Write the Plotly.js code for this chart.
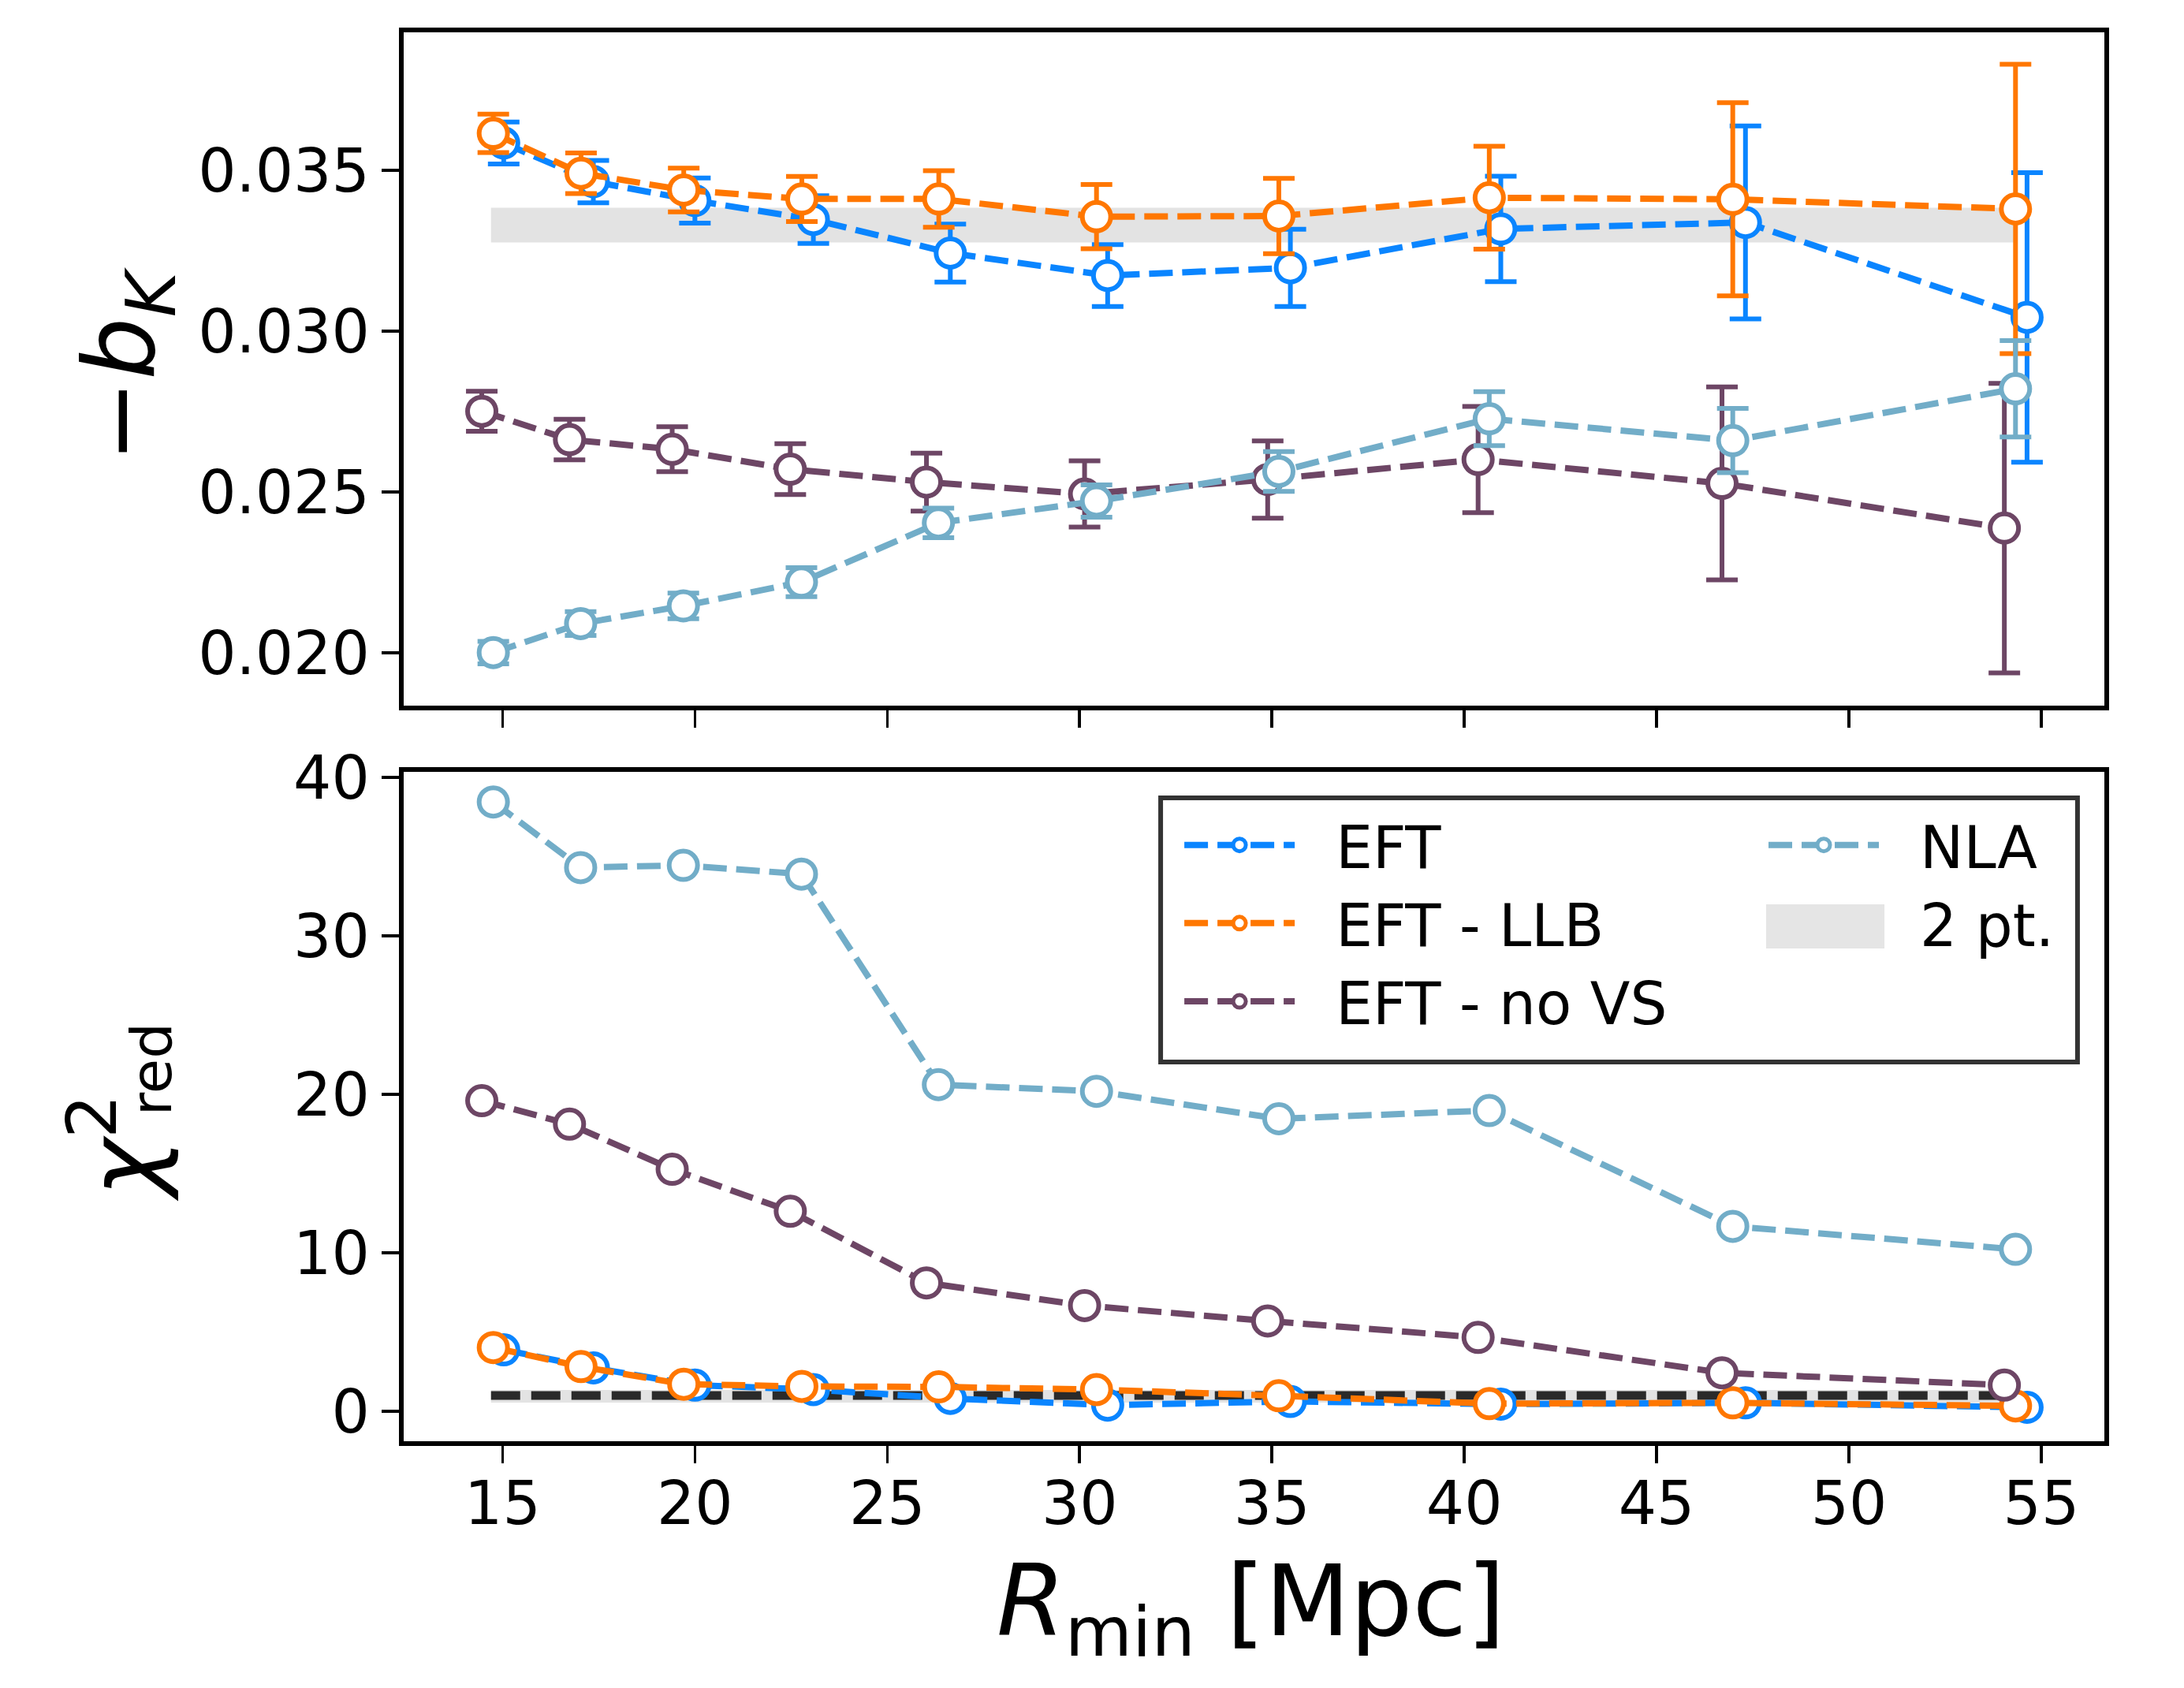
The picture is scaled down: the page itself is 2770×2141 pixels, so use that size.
<!DOCTYPE html>
<html>
<head>
<meta charset="utf-8">
<script src="https://cdn.plot.ly/plotly-3.0.1.min.js"></script>
<style>html,body{margin:0;padding:0;background:#fff;}#chart{width:2770px;height:2141px;}</style>
</head>
<body>
<div id="chart"></div>
<script>
// ---- data ----
const rEFT  = [15.03, 17.36, 20.00, 23.08, 26.64, 30.73, 35.48, 40.95, 47.31, 54.63];
const rLLB  = [14.76, 17.04, 19.71, 22.78, 26.34, 30.44, 35.18, 40.65, 46.98, 54.33];
const rNoVS = [14.46, 16.74, 19.41, 22.48, 26.02, 30.13, 34.89, 40.36, 46.70, 54.04];
const rNLA  = [14.76, 17.03, 19.70, 22.77, 26.33, 30.44, 35.18, 40.65, 46.98, 54.33];

const bK_EFT      = [0.03585, 0.03465, 0.03406, 0.03347, 0.03243, 0.03173, 0.03197, 0.03318, 0.03338, 0.03043];
const bK_EFT_err  = [0.00065, 0.00066, 0.00070, 0.00074, 0.00090, 0.00096, 0.00120, 0.00164, 0.00300, 0.00450];
const bK_LLB      = [0.03615, 0.03491, 0.03439, 0.03411, 0.03411, 0.03356, 0.03358, 0.03415, 0.03410, 0.03380];
const bK_LLB_err  = [0.00060, 0.00063, 0.00068, 0.00070, 0.00088, 0.00100, 0.00117, 0.00160, 0.00300, 0.00450];
const bK_noVS     = [0.02751, 0.02663, 0.02633, 0.02571, 0.02531, 0.02494, 0.02539, 0.02601, 0.02527, 0.02388];
const bK_noVS_err = [0.00062, 0.00063, 0.00070, 0.00079, 0.00090, 0.00103, 0.00120, 0.00165, 0.00300, 0.00450];
const bK_NLA      = [0.02001, 0.02091, 0.02146, 0.02220, 0.02404, 0.02472, 0.02564, 0.02728, 0.02660, 0.02821];
const bK_NLA_err  = [0.00035, 0.00037, 0.00040, 0.00045, 0.00046, 0.00050, 0.00062, 0.00084, 0.00100, 0.00150];

const chi2_EFT  = [3.88, 2.74, 1.65, 1.37, 0.81, 0.39, 0.62, 0.45, 0.53, 0.25];
const chi2_LLB  = [4.02, 2.82, 1.71, 1.57, 1.54, 1.37, 0.98, 0.48, 0.53, 0.34];
const chi2_noVS = [19.60, 18.12, 15.27, 12.62, 8.10, 6.67, 5.70, 4.66, 2.43, 1.65];
const chi2_NLA  = [38.45, 34.31, 34.45, 33.90, 20.61, 20.19, 18.46, 18.98, 11.67, 10.22];

// 2-point reference
const twoPtX      = [14.7, 54.3];
const bK2pt_lo    = [0.03276, 0.03276];
const bK2pt_hi    = [0.03384, 0.03384];
const chi2Ref     = [1, 1];
const chi2Band_lo = [0.55, 0.55];
const chi2Band_hi = [1.35, 1.35];

const xTicks  = [15, 20, 25, 30, 35, 40, 45, 50, 55];
const yTicksT = [0.020, 0.025, 0.030, 0.035];
const yTicksB = [0, 10, 20, 30, 40];

const names = ['EFT', 'EFT - LLB', 'EFT - no VS', 'NLA', '2 pt.'];

// ---- styles ----
const C = {eft: '#0a85ff', llb: '#ff7700', novs: '#6d4665', nla: '#72adc8', band: '#e3e3e3', ref: '#2a2a2a'};
const LW = 8, DASH = '30px,12px';
const PAD = '&nbsp;&nbsp;';
const mk = c => ({symbol: 'circle', size: 36, color: 'white', line: {color: c, width: 6}});
const eb = (arr, c) => ({type: 'data', array: arr, visible: true, color: c, thickness: 6, width: 20});

function series(x, yT, errT, yB, name, c, leg, grp, rank) {
  return [
    {x: x, y: yT, error_y: eb(errT, c), mode: 'lines+markers', name: PAD + name, legend: leg, legendgroup: grp, legendrank: rank,
     line: {color: c, width: LW, dash: DASH}, marker: mk(c), xaxis: 'x', yaxis: 'y', cliponaxis: false},
    {x: x, y: yB, mode: 'lines+markers', name: name, legendgroup: grp, showlegend: false,
     line: {color: c, width: LW, dash: DASH}, marker: mk(c), xaxis: 'x2', yaxis: 'y2', cliponaxis: false}
  ];
}

const traces = [
  {x: twoPtX, y: bK2pt_lo, mode: 'lines', line: {width: 0, color: C.band}, showlegend: false, hoverinfo: 'skip', xaxis: 'x', yaxis: 'y'},
  {x: twoPtX, y: bK2pt_hi, mode: 'lines', fill: 'tonexty', fillcolor: C.band, line: {width: 0, color: C.band},
   name: names[4], showlegend: false, legendgroup: 'twopt', xaxis: 'x', yaxis: 'y'},
  {x: twoPtX, y: chi2Band_lo, mode: 'lines', line: {width: 0, color: C.band}, showlegend: false, hoverinfo: 'skip', xaxis: 'x2', yaxis: 'y2'},
  {x: twoPtX, y: chi2Band_hi, mode: 'lines', fill: 'tonexty', fillcolor: C.band, line: {width: 0, color: C.band},
   showlegend: false, legendgroup: 'twopt', xaxis: 'x2', yaxis: 'y2'},
  {x: twoPtX, y: chi2Ref, mode: 'lines', line: {width: 11, color: C.ref, dash: '37px,14px'}, showlegend: false, xaxis: 'x2', yaxis: 'y2'},
  // legend text entry for the 2-point band (its swatch is the shape below)
  {x: [null], y: [null], mode: 'lines', line: {width: 0, color: 'rgba(0,0,0,0)'}, name: PAD + names[4],
   legend: 'legend2', legendgroup: 'twopt', legendrank: 2, xaxis: 'x', yaxis: 'y', hoverinfo: 'skip'},
  ...series(rEFT, bK_EFT, bK_EFT_err, chi2_EFT, names[0], C.eft, 'legend', 'eft', 1),
  ...series(rLLB, bK_LLB, bK_LLB_err, chi2_LLB, names[1], C.llb, 'legend', 'llb', 2),
  ...series(rNoVS, bK_noVS, bK_noVS_err, chi2_noVS, names[2], C.novs, 'legend', 'novs', 3),
  ...series(rNLA, bK_NLA, bK_NLA_err, chi2_NLA, names[3], C.nla, 'legend2', 'nla', 1)
];

const axCommon = {
  showline: true, mirror: true, linecolor: '#000', linewidth: 6,
  ticks: 'outside', ticklen: 22, tickwidth: 3.5, tickcolor: '#000',
  showgrid: false, zeroline: false, tickfont: {size: 76, color: '#000', family: 'DejaVu Sans'}
};
const xRange = [12.43, 56.64];

const layout = {
  width: 2770, height: 2141,
  paper_bgcolor: '#ffffff', plot_bgcolor: '#ffffff',
  font: {family: 'DejaVu Sans', size: 74, color: '#000'},
  margin: {l: 512, r: 101, t: 41, b: 313},
  showlegend: true,
  xaxis:  Object.assign({}, axCommon, {domain: [0, 1], anchor: 'y', range: xRange, tickmode: 'array', tickvals: xTicks, showticklabels: false}),
  xaxis2: Object.assign({}, axCommon, {domain: [0, 1], anchor: 'y2', range: xRange, tickmode: 'array', tickvals: xTicks,
            ticktext: xTicks.map(String), ticklabelstandoff: -14}),
  yaxis:  Object.assign({}, axCommon, {domain: [0.5221, 1], anchor: 'x', range: [0.01836, 0.03929], tickmode: 'array', tickvals: yTicksT, tickformat: '.3f'}),
  yaxis2: Object.assign({}, axCommon, {domain: [0, 0.4751], anchor: 'x2', range: [-1.89, 40.35], tickmode: 'array', tickvals: yTicksB}),
  legend:  {x: 0.4567, y: 0.4538, xanchor: 'left', yanchor: 'top', bgcolor: 'rgba(0,0,0,0)', borderwidth: 0,
            itemwidth: 140, tracegroupgap: 8, font: {size: 74, color: '#000'}, traceorder: 'normal'},
  legend2: {x: 0.8002, y: 0.4538, xanchor: 'left', yanchor: 'top', bgcolor: 'rgba(0,0,0,0)', borderwidth: 0,
            itemwidth: 140, tracegroupgap: 8, font: {size: 74, color: '#000'}, traceorder: 'normal'},
  shapes: [
    {type: 'rect', xref: 'paper', yref: 'paper', x0: 0.4451, x1: 0.9842, y0: 0.2692, y1: 0.4566,
     line: {color: '#333333', width: 6}, fillcolor: 'rgba(255,255,255,0.9)', layer: 'above'},
    // legend swatch for "2 pt."
    {type: 'rect', xref: 'paper', yref: 'paper', x0: 0.8011, x1: 0.8707, y0: 0.3497, y1: 0.3811,
     line: {width: 0}, fillcolor: '#e5e5e5', layer: 'above'}
  ],
  annotations: [
    {text: '−<i>b</i><sub><i>K</i></sub>', xref: 'paper', yref: 'paper', x: -0.163, y: 0.7644,
     xanchor: 'center', yanchor: 'middle', textangle: -90, showarrow: false, font: {size: 125, color: '#000'}},
    {text: '<i>χ</i><sup>2</sup>', xref: 'paper', yref: 'paper', x: -0.169, y: 0.2085,
     xanchor: 'center', yanchor: 'middle', textangle: -90, showarrow: false, font: {size: 125, color: '#000'}},
    {text: 'red', xref: 'paper', yref: 'paper', x: -0.1483, y: 0.2641,
     xanchor: 'center', yanchor: 'middle', textangle: -90, showarrow: false, font: {size: 72, color: '#000'}},
    {text: '<i>R</i><sub>min</sub> [Mpc]', xref: 'paper', yref: 'paper', x: 0.498, y: -0.1184,
     xanchor: 'center', yanchor: 'middle', showarrow: false, font: {size: 125, color: '#000'}}
  ]
};

Plotly.newPlot('chart', traces, layout, {staticPlot: true, displayModeBar: false});
</script>
</body>
</html>
